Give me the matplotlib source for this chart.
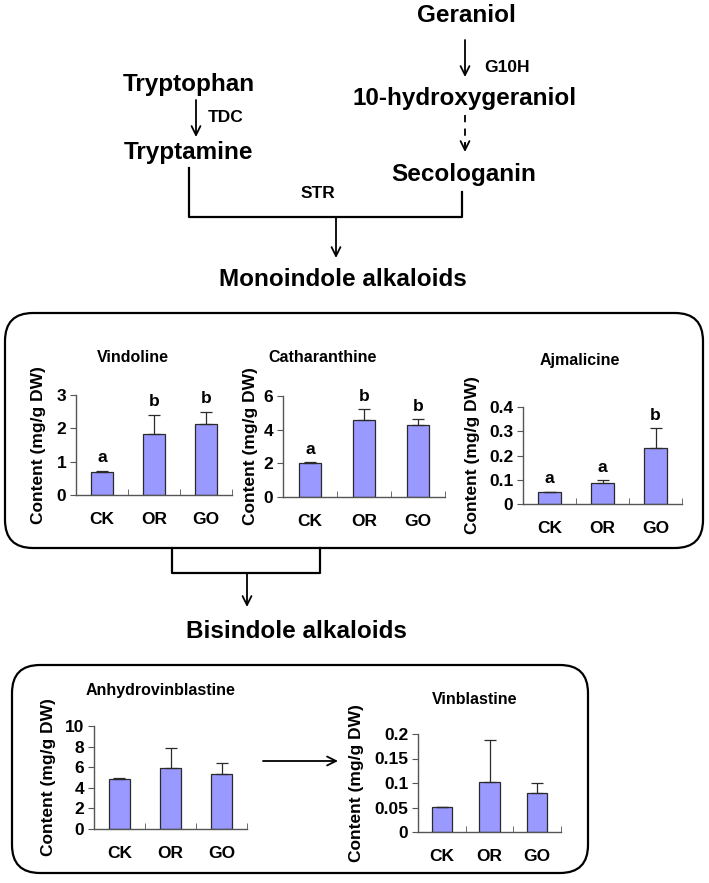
import numpy as np
import matplotlib
matplotlib.use('Agg')
import matplotlib.pyplot as plt
from matplotlib.patches import FancyBboxPatch
from matplotlib.ticker import FuncFormatter, FixedLocator

plt.rcParams['font.family'] = ['Liberation Sans', 'DejaVu Sans']
plt.rcParams['font.weight'] = 'bold'

groups = ['CK', 'OR', 'GO']

vindoline = [0.70, 1.82, 2.12]
vindoline_err = [0.02, 0.58, 0.38]
vindoline_sig = ['a', 'b', 'b']

catharanthine = [2.0, 4.57, 4.28]
catharanthine_err = [0.05, 0.65, 0.35]
catharanthine_sig = ['a', 'b', 'b']

ajmalicine = [0.05, 0.087, 0.23]
ajmalicine_err = [0.0, 0.01, 0.083]
ajmalicine_sig = ['a', 'a', 'b']

anhydrovinblastine = [4.9, 5.95, 5.3]
anhydrovinblastine_err = [0.06, 1.9, 1.1]

vinblastine = [0.052, 0.102, 0.079]
vinblastine_err = [0.0, 0.085, 0.021]

W, H = 709, 883
fig = plt.figure(figsize=(W / 100, H / 100), dpi=100)

# overlay in pixel coordinates for the pathway diagram
ov = fig.add_axes([0, 0, 1, 1])
ov.set_xlim(0, W)
ov.set_ylim(H, 0)
ov.axis('off')

BIG = 17.5
SMALL = 12.5


def txt(x, y, s, size, **kw):
    ov.text(x, y, s, fontsize=size, fontweight='bold', ha='center', va='center', **kw)


def arrow(x0, y0, x1, y1):
    ov.annotate('', xy=(x1, y1), xytext=(x0, y0),
                arrowprops=dict(arrowstyle='->', lw=1.3, color='black',
                                shrinkA=0, shrinkB=0, mutation_scale=16))


txt(466, 16, 'Geraniol', BIG)
arrow(465, 40, 465, 77)
txt(507, 68, 'G10H', SMALL)
txt(189, 84, 'Tryptophan', BIG)
txt(465, 99, '10-hydroxygeraniol', BIG)
arrow(196, 100, 196, 137)
txt(226, 117, 'TDC', SMALL)
txt(188, 152, 'Tryptamine', BIG)
# dashed step: dashed shaft, solid head
ov.plot([465, 465], [115, 146], color='black', lw=1.3, dashes=(4, 3.5))
arrow(465, 143, 465, 152)
txt(464, 174, 'Secologanin', BIG)
ov.plot([189, 189, 462, 462], [168, 217, 217, 192], color='black', lw=1.6)
arrow(336, 217, 336, 258)
txt(318, 193, 'STR', SMALL)
txt(343, 280, 'Monoindole alkaloids', BIG)

ov.add_patch(FancyBboxPatch((5, 313), 698, 235, boxstyle='round,pad=0,rounding_size=28',
                            fill=False, lw=1.6, ec='black'))
ov.plot([172, 172, 320, 320], [548, 573, 573, 548], color='black', lw=1.6)
arrow(247, 573, 247, 607)
txt(296, 631, 'Bisindole alkaloids', BIG)

ov.add_patch(FancyBboxPatch((12, 665), 576, 208, boxstyle='round,pad=0,rounding_size=28',
                            fill=False, lw=1.6, ec='black'))
arrow(263, 761, 338, 761)


def chart(px0, px1, ptop, pbot, vals, errs, ymax, step, title, title_xy, ylab_x, sig=None):
    ax = fig.add_axes([px0 / W, 1 - pbot / H, (px1 - px0) / W, (pbot - ptop) / H])
    ax.patch.set_alpha(0)
    x = np.arange(len(groups))
    ax.bar(x, vals, width=0.42, color='#9999ff', edgecolor='#2a2a2a', lw=0.9, zorder=2)
    ax.errorbar(x, vals, yerr=[np.zeros(len(errs)), errs], fmt='none', ecolor='#2a2a2a',
                elinewidth=0.9, capsize=4, capthick=0.9, zorder=3)
    ax.set_xlim(-0.5, len(groups) - 0.5)
    ax.set_ylim(0, ymax)
    ax.yaxis.set_major_locator(FixedLocator(np.arange(0, ymax + step / 2, step)))
    ax.yaxis.set_major_formatter(FuncFormatter(lambda v, p: '%g' % round(v, 3)))
    ax.set_xticks(x)
    ax.set_xticklabels(groups)
    ax.xaxis.set_minor_locator(FixedLocator([0.5, 1.5, 2.5]))
    ax.tick_params(axis='x', which='major', length=0, pad=12, labelsize=SMALL)
    ax.tick_params(axis='x', which='minor', direction='in', length=4, color='#555555')
    ax.tick_params(axis='y', direction='out', length=4, color='#555555', labelsize=SMALL, pad=3)
    for lab in ax.get_xticklabels() + ax.get_yticklabels():
        lab.set_fontweight('bold')
    for s in ['top', 'right']:
        ax.spines[s].set_visible(False)
    for s in ['left', 'bottom']:
        ax.spines[s].set_color('#555555')
        ax.spines[s].set_linewidth(1.0)
    ax.set_ylabel('Content (mg/g DW)', fontsize=SMALL, fontweight='bold')
    ax.yaxis.set_label_coords((ylab_x + 8 - px0) / (px1 - px0), 0.5)
    if sig is not None:
        for xi, v, e, s in zip(x, vals, errs, sig):
            ax.annotate(s, (xi, v + e), xytext=(0, 4), textcoords='offset points',
                        ha='center', va='bottom', fontsize=SMALL, fontweight='bold')
    txt(title_xy[0], title_xy[1], title, 11.5)
    return ax


chart(76, 232, 395, 495, vindoline, vindoline_err, 3, 1, 'Vindoline', (133, 358), 38,
      vindoline_sig)
chart(283, 445, 396, 497, catharanthine, catharanthine_err, 6, 2, 'Catharanthine', (323, 358),
      250, catharanthine_sig)
chart(523, 682, 407, 504, ajmalicine, ajmalicine_err, 0.4, 0.1, 'Ajmalicine', (580, 360),
      472, ajmalicine_sig)
chart(94, 247, 726, 829, anhydrovinblastine, anhydrovinblastine_err, 10, 2,
      'Anhydrovinblastine', (161, 690), 48)
chart(418, 561, 734, 832, vinblastine, vinblastine_err, 0.2, 0.05, 'Vinblastine', (475, 700),
      356)

fig.savefig('out.png', dpi=100)
